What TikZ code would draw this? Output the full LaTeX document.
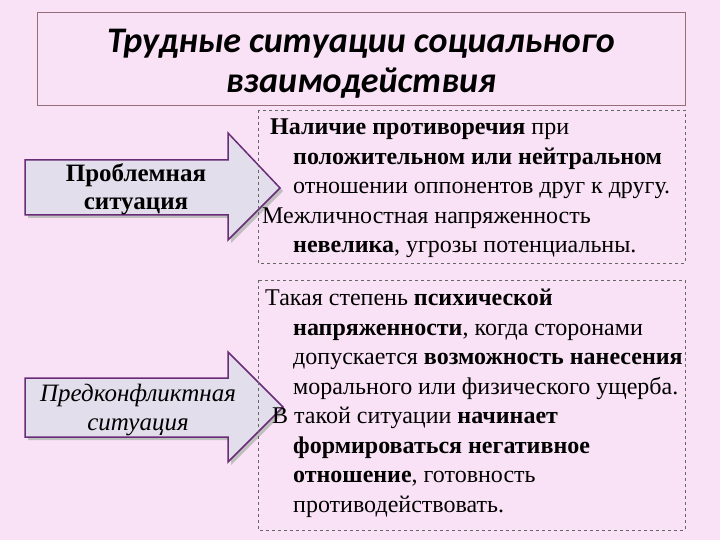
\documentclass[tikz,border=0pt]{standalone}
\usepackage{fontspec}
\setmainfont{Liberation Serif}
\newfontfamily\titlefont{Carlito}
\definecolor{bg}{RGB}{250,226,246}
\definecolor{arrfill}{RGB}{226,222,236}
\definecolor{arrdraw}{RGB}{105,45,120}
\definecolor{tborder}{RGB}{150,110,120}
\begin{document}
\begin{tikzpicture}[x=1pt,y=-1pt,
  arrowshape/.style={fill=arrfill,draw=arrdraw,line width=1.5pt,line join=miter},
  dbox/.style={draw=gray!80!black,dashed,line width=0.6pt},
  body/.style={anchor=north west,align=left,inner sep=0pt,font=\fontsize{24}{29.5}\selectfont}]
\useasboundingbox (0,0) rectangle (720,540);
\fill[bg] (0,0) rectangle (720,540);
% title
\draw[tborder,line width=0.8pt] (37,12) rectangle (685,105);
\node (title) at (361,64) [align=center,font=\titlefont\bfseries\itshape\fontsize{36}{40}\selectfont] {Трудные ситуации социального\\взаимодействия};
% arrows
\fill[black!25] (28,163) -- (231,163) -- (231,136) -- (283,191) -- (231,243) -- (231,218) -- (28,218) -- cycle;
\draw[arrowshape] (25,160) -- (228,160) -- (228,133) -- (280,188) -- (228,240) -- (228,215) -- (25,215) -- cycle;
\node (p1) at (136,189) [align=center,font=\fontsize{25}{28}\selectfont\bfseries] {Проблемная\\ситуация};
\fill[black!25] (28,381) -- (231,381) -- (231,355) -- (286,410) -- (231,465) -- (231,440) -- (28,440) -- cycle;
\draw[arrowshape] (25,378) -- (228,378) -- (228,352) -- (283,407) -- (228,462) -- (228,437) -- (25,437) -- cycle;
\node (p2) at (138,410) [align=center,font=\fontsize{25}{29}\selectfont\itshape] {Предконфликтная\\ситуация};
% boxes
\draw[dbox] (258,110) rectangle (685,263);
\node (t1) at (262,119) [body] {\hspace*{8pt}\textbf{Наличие противоречия} при\\
\hspace*{31pt}\textbf{положительном или нейтральном}\\
\hspace*{31pt}отношении оппонентов друг к другу.\\
Межличностная напряженность\\
\hspace*{31pt}\textbf{невелика}, угрозы потенциальны.};
\draw[dbox] (258,280) rectangle (685,530);
\node (t2) at (262,289) [body] {\hspace*{3pt}Такая степень \textbf{психической}\\
\hspace*{31pt}\textbf{напряженности}, когда сторонами\\
\hspace*{31pt}допускается \textbf{возможность нанесения}\\
\hspace*{31pt}морального или физического ущерба.\\
\hspace*{10pt}В такой ситуации \textbf{начинает}\\
\hspace*{31pt}\textbf{формироваться негативное}\\
\hspace*{31pt}\textbf{отношение}, готовность\\
\hspace*{31pt}противодействовать.};
\end{tikzpicture}
\end{document}
